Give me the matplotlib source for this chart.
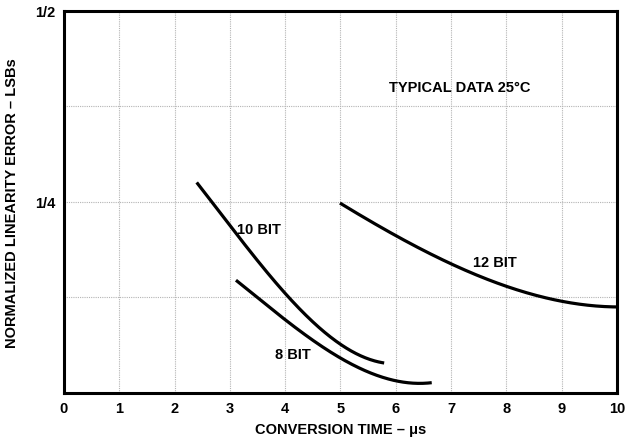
import numpy as np
import matplotlib
matplotlib.use('Agg')
import matplotlib.pyplot as plt
from matplotlib.ticker import MultipleLocator, FixedLocator

plt.rcParams['font.family'] = ['Liberation Sans', 'DejaVu Sans']
plt.rcParams['font.weight'] = 'bold'
plt.rcParams['axes.labelweight'] = 'bold'

# Curves (conversion time in us, error in LSBs)
t_10 = [2.40, 2.69, 3.00, 3.31, 3.60, 4.00, 4.50, 5.00, 5.48, 5.79]
e_10 = [0.274, 0.250, 0.221, 0.191, 0.162, 0.130, 0.093, 0.064, 0.047, 0.038]

t_8 = [3.11, 3.49, 4.00, 4.50, 5.00, 5.48, 6.02, 6.65]
e_8 = [0.147, 0.126, 0.097, 0.068, 0.045, 0.028, 0.017, 0.013]

t_12 = [4.99, 6.02, 7.03, 8.01, 9.00, 10.00]
e_12 = [0.249, 0.204, 0.169, 0.140, 0.119, 0.113]

x_ticks = list(range(0, 11))
y_ticks = [0.25, 0.5]
y_ticklabels = ['1/4', '1/2']

fig = plt.figure(figsize=(6.26, 4.39), dpi=100)
ax = fig.add_axes([0.1022, 0.1025, 0.8834, 0.8702])


def smooth(x, y):
    # smooth pass through the read points
    xs = np.linspace(x[0], x[-1], 200)
    c = np.polyfit(x, y, 3)
    return xs, np.polyval(c, xs)


for x, y in [(t_10, e_10), (t_8, e_8), (t_12, e_12)]:
    xs, ys = smooth(x, y)
    ax.plot(xs, ys, color='black', lw=2.3, solid_capstyle='butt', zorder=3)

ax.set_xlim(0, 10)
ax.set_ylim(0, 0.5)
ax.xaxis.set_major_locator(FixedLocator(x_ticks))
ax.set_xticklabels([str(v) for v in x_ticks])
ax.yaxis.set_major_locator(FixedLocator(y_ticks))
ax.set_yticklabels(y_ticklabels)
ax.yaxis.set_minor_locator(MultipleLocator(0.125))

ax.grid(True, which='both', color='#b4b4b4', ls=(0, (1, 1)), lw=0.8)
ax.tick_params(length=0, labelsize=10.5, pad=6)
ax.tick_params(which='minor', length=0)
for s in ax.spines.values():
    s.set_linewidth(2.2)

fs = 10.5
ax.text(3.13, 0.215, '10 BIT', fontsize=fs, va='center')
ax.text(3.82, 0.051, '8 BIT', fontsize=fs, va='center')
ax.text(7.40, 0.171, '12 BIT', fontsize=fs, va='center')
ax.text(5.88, 0.400, 'TYPICAL DATA 25°C', fontsize=fs, va='center')

ax.set_xlabel('CONVERSION TIME – μs', fontsize=fs, labelpad=5)
ax.set_ylabel('NORMALIZED LINEARITY ERROR – LSBs', fontsize=fs, labelpad=12)

fig.savefig('out.png', dpi=100)
